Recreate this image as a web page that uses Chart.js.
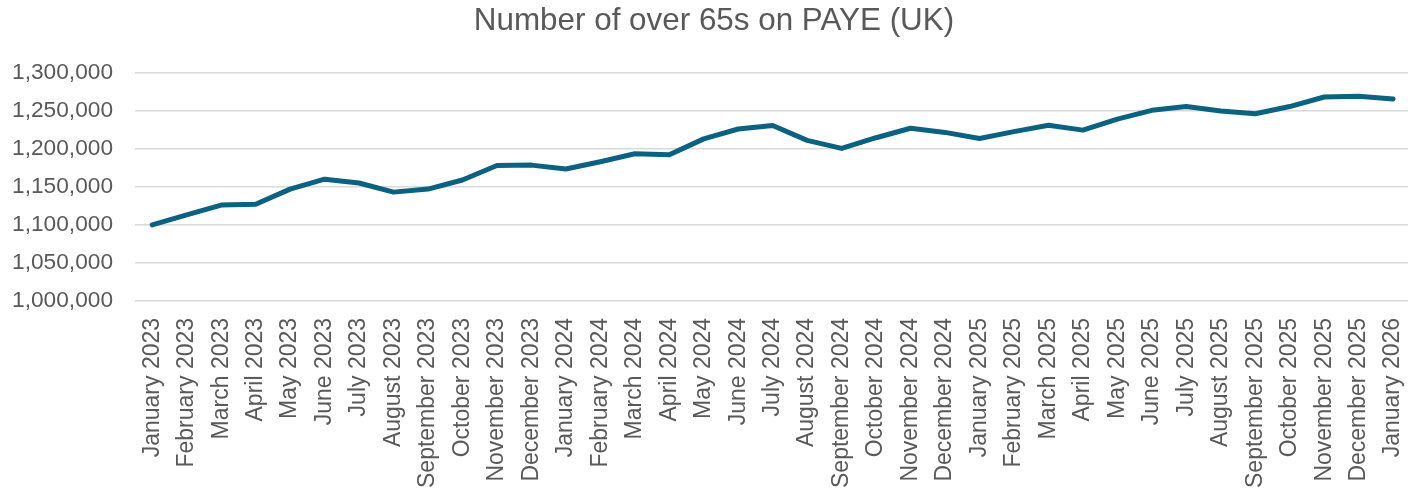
<!DOCTYPE html>
<html>
<head>
<meta charset="utf-8">
<script src="https://cdn.jsdelivr.net/npm/chart.js@4"></script>
<style>
  html, body { margin: 0; padding: 0; background: #fff; overflow: hidden; }
  #wrap { width: 1438px; height: 491px; }
</style>
</head>
<body>
<div id="wrap"><canvas id="payeChart"></canvas></div>
<script>
// monthly series, January 2023 to January 2026
const months = [
  'January 2023', 'February 2023', 'March 2023', 'April 2023', 'May 2023', 'June 2023',
  'July 2023', 'August 2023', 'September 2023', 'October 2023', 'November 2023', 'December 2023',
  'January 2024', 'February 2024', 'March 2024', 'April 2024', 'May 2024', 'June 2024',
  'July 2024', 'August 2024', 'September 2024', 'October 2024', 'November 2024', 'December 2024',
  'January 2025', 'February 2025', 'March 2025', 'April 2025', 'May 2025', 'June 2025',
  'July 2025', 'August 2025', 'September 2025', 'October 2025', 'November 2025', 'December 2025',
  'January 2026'
];

const over65s = [
  1100000, 1113000, 1126000, 1127000, 1147000, 1160000,
  1155000, 1143000, 1147000, 1159000, 1178000, 1178500,
  1173500, 1183000, 1193500, 1192000, 1213000, 1226000,
  1230500, 1211000, 1200500, 1214500, 1227000, 1221500,
  1213500, 1222500, 1231000, 1224500, 1239000, 1250500,
  1255500, 1249500, 1246000, 1255500, 1268000, 1269000,
  1265500
];

const yMin = 1000000;
const yMax = 1300000;
const yStep = 50000;

const textGrey = '#595959';
const gridGrey = '#d9d9d9';
const fontFamily = 'Liberation Sans, Arial, sans-serif';

new Chart(document.getElementById('payeChart'), {
  type: 'line',
  data: {
    labels: months,
    datasets: [{
      label: 'Number of over 65s on PAYE (UK)',
      data: over65s,
      borderColor: '#0b6180',
      borderWidth: 5,
      borderCapStyle: 'round',
      borderJoinStyle: 'round',
      pointRadius: 0,
      tension: 0,
      fill: false
    }]
  },
  options: {
    responsive: true,
    maintainAspectRatio: false,
    animation: false,
    layout: { padding: { left: 12, right: 22, top: 0, bottom: 0 } },
    plugins: {
      legend: { display: false },
      tooltip: { enabled: false },
      title: {
        display: true,
        text: 'Number of over 65s on PAYE (UK)',
        color: textGrey,
        font: { family: fontFamily, size: 31.4, weight: 'normal' },
        padding: { top: 3, bottom: 32 }
      }
    },
    scales: {
      x: {
        offset: true,
        grid: { display: false, drawTicks: false },
        border: { display: false },
        // chart.js reserves the tick padding twice; take most of it back
        afterFit: (scale) => { scale.height -= 14; },
        ticks: {
          autoSkip: false,
          maxRotation: 90,
          minRotation: 90,
          padding: 17,
          color: textGrey,
          font: { family: fontFamily, size: 23 }
        }
      },
      y: {
        min: yMin,
        max: yMax,
        grid: { color: gridGrey, lineWidth: 1.5, drawTicks: false },
        border: { display: false },
        afterFit: (scale) => { scale.width = 123; },
        ticks: {
          stepSize: yStep,
          padding: 22,
          color: textGrey,
          font: { family: fontFamily, size: 22.7 },
          callback: (v) => v.toLocaleString('en-GB')
        }
      }
    }
  }
});
</script>
</body>
</html>
